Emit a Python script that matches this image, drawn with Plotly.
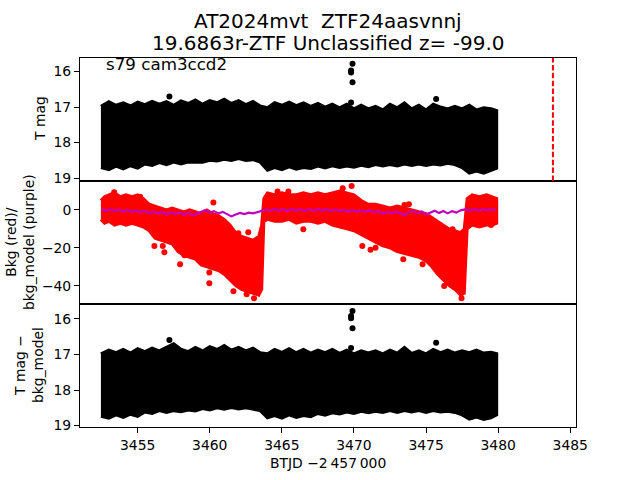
import plotly.graph_objects as go
from plotly.subplots import make_subplots

# ---------------- data ----------------
# envelope sample times for the dense black bands
T_ENV = [3452.45, 3453.0, 3453.5, 3454.0, 3454.5, 3455.0, 3455.5, 3456.0, 3456.5, 3457.0,
         3457.5, 3458.0, 3458.5, 3459.0, 3459.5, 3460.0, 3460.5, 3461.0, 3461.5, 3462.0,
         3462.5, 3463.0, 3463.5, 3464.0, 3464.5, 3465.0, 3465.5, 3466.0, 3466.5, 3467.0,
         3467.5, 3468.0, 3468.5, 3469.0, 3469.5, 3470.0, 3470.5, 3471.0, 3471.5, 3472.0,
         3472.5, 3473.0, 3473.5, 3474.0, 3474.5, 3475.0, 3475.5, 3476.0, 3476.5, 3477.0,
         3477.5, 3478.0, 3478.5, 3479.0, 3479.5, 3479.9]

TMAG_UPPER = [16.98, 16.85, 16.95, 16.88, 16.97, 16.86, 16.93, 16.84, 16.92, 16.85,
              16.95, 16.83, 16.90, 16.80, 16.92, 16.82, 16.88, 16.78, 16.90, 16.82,
              16.93, 16.84, 16.97, 17.02, 16.88, 16.95, 16.86, 16.96, 16.88, 16.98,
              16.90, 17.00, 16.92, 17.02, 16.92, 17.05, 16.95, 17.05, 16.98, 17.08,
              16.92, 17.02, 16.88, 17.05, 16.95, 17.08, 16.92, 17.00, 17.05, 16.98,
              17.05, 16.95, 17.08, 17.02, 17.05, 17.10]
TMAG_LOWER = [18.70, 18.76, 18.66, 18.74, 18.65, 18.72, 18.60, 18.64, 18.56, 18.62,
              18.55, 18.60, 18.55, 18.54, 18.55, 18.50, 18.52, 18.47, 18.50, 18.45,
              18.50, 18.48, 18.55, 18.78, 18.70, 18.76, 18.68, 18.75, 18.70, 18.73,
              18.66, 18.71, 18.65, 18.70, 18.66, 18.69, 18.64, 18.68, 18.62, 18.66,
              18.62, 18.66, 18.60, 18.64, 18.60, 18.64, 18.60, 18.63, 18.58, 18.62,
              18.70, 18.86, 18.80, 18.86, 18.78, 18.72]

SUB_UPPER = [16.98, 16.88, 16.95, 16.86, 16.96, 16.84, 16.92, 16.82, 16.90, 16.80,
             16.70, 16.85, 16.92, 16.80, 16.90, 16.78, 16.86, 16.75, 16.88, 16.80,
             16.90, 16.82, 16.95, 16.98, 16.86, 16.94, 16.84, 16.95, 16.86, 16.96,
             16.88, 16.95, 16.86, 16.97, 16.88, 16.98, 16.90, 16.96, 16.90, 16.98,
             16.88, 16.96, 16.80, 16.97, 16.90, 16.98, 16.86, 16.95, 16.88, 16.96,
             16.90, 16.95, 16.88, 16.96, 16.94, 16.98]
SUB_LOWER = [18.74, 18.79, 18.70, 18.77, 18.68, 18.74, 18.62, 18.66, 18.58, 18.63,
             18.58, 18.61, 18.56, 18.59, 18.52, 18.56, 18.50, 18.54, 18.49, 18.53,
             18.50, 18.54, 18.58, 18.78, 18.72, 18.79, 18.70, 18.77, 18.72, 18.75,
             18.66, 18.71, 18.64, 18.67, 18.62, 18.66, 18.60, 18.64, 18.60, 18.63,
             18.58, 18.63, 18.58, 18.62, 18.58, 18.63, 18.58, 18.62, 18.60, 18.63,
             18.70, 18.82, 18.76, 18.83, 18.78, 18.70]

# isolated bright points
OUT_T = [3457.2, 3469.9, 3469.8, 3469.8, 3469.9, 3469.8, 3475.7]
OUT_TMAG = [16.70, 15.78, 15.97, 16.03, 16.30, 16.87, 16.77]
OUT_SUB = [16.59, 15.78, 15.92, 15.98, 16.26, 16.82, 16.67]

# background (red) envelope
BKG_T = [3452.45, 3452.7, 3453.0, 3453.4, 3453.8, 3454.2, 3454.6, 3455.0, 3455.4, 3455.8,
         3456.2, 3456.6, 3457.0, 3457.4, 3457.8, 3458.2, 3458.6, 3459.0, 3459.4, 3459.8,
         3460.2, 3460.6, 3461.0, 3461.4, 3461.8, 3462.2, 3462.6, 3463.0, 3463.4, 3463.6,
         3463.75, 3464.0, 3464.5, 3465.0, 3465.5, 3466.0, 3466.5, 3467.0, 3467.5, 3468.0,
         3468.5, 3469.0, 3469.5, 3470.0, 3470.5, 3471.0, 3471.5, 3472.0, 3472.5, 3473.0,
         3473.5, 3474.0, 3474.5, 3475.0, 3475.4, 3475.8, 3476.2, 3476.6, 3477.0, 3477.4,
         3477.65, 3477.85, 3478.2, 3478.7, 3479.2, 3479.6, 3479.9]
BKG_UPPER = [5, 7, 8, 9, 7, 8, 7, 8, 6, 3,
             2, 1, 0, 1, 0, -1, 0, -1, -2, 0,
             -2, -3, -5, -8, -12, -14, -15, -16, -14, -8,
             6, 9, 8, 9, 8, 8, 9, 8, 9, 8,
             9, 10, 9, 8, 5, 3, 3, 2, 1, 2,
             1, 0, -1, -2, -4, -6, -8, -10, -11, -12,
             -10, 6, 8, 7, 8, 7, 6]
BKG_LOWER = [-5, -7, -6, -8, -7, -8, -7, -8, -9, -11,
             -15, -16, -17, -18, -22, -24, -25, -26, -29, -30,
             -31, -32, -34, -37, -40, -42, -43, -44, -45, -42,
             -6, -5, -6, -6, -5, -7, -6, -6, -7, -6,
             -8, -9, -10, -11, -13, -15, -17, -19, -20, -22,
             -23, -24, -25, -27, -30, -34, -37, -40, -42, -45,
             -44, -10, -8, -9, -8, -8, -7]

BKG_OUT_T = [3453.37, 3455.17, 3460.25, 3456.16, 3456.74, 3456.85, 3458.24, 3457.94, 3459.97,
             3459.97, 3459.97, 3461.0, 3461.64, 3462.56, 3463.07, 3461.98, 3462.67, 3465.45,
             3466.49, 3464.7, 3469.22, 3469.84, 3468.75, 3470.58, 3471.15, 3471.5, 3473.42,
             3474.76, 3473.5, 3473.81, 3476.84, 3476.26, 3476.93, 3477.46, 3479.5]
BKG_OUT_V = [9.4, 7.0, 3.9, -19.0, -19.0, -22.4, -24.0, -28.7, -29.0,
             -33.0, -38.8, -31.4, -43.0, -44.6, -46.7, -12.3, -11.8, 9.7,
             -10.2, 9.7, 11.5, 12.7, 8.5, -19.0, -21.0, -20.0, -26.0,
             -28.7, 2.6, 3.0, -10.2, -40.2, -40.6, -46.7, -7.9]

# background model (purple)
MODEL_T = [3452.5, 3452.8, 3453.1, 3453.4, 3453.7, 3454.0, 3454.3, 3454.6, 3454.9, 3455.2,
           3455.5, 3455.8, 3456.1, 3456.4, 3456.7, 3457.0, 3457.3, 3457.6, 3457.9, 3458.2,
           3458.5, 3458.8, 3459.1, 3459.4, 3459.7, 3460.0, 3460.3, 3460.6, 3460.9, 3461.2,
           3461.5, 3461.8, 3462.1, 3462.4, 3462.7, 3463.0, 3463.3, 3463.6, 3463.9, 3464.2,
           3464.5, 3464.8, 3465.1, 3465.4, 3465.7, 3466.0, 3466.3, 3466.6, 3466.9, 3467.2,
           3467.5, 3467.8, 3468.1, 3468.4, 3468.7, 3469.0, 3469.3, 3469.6, 3469.9, 3470.2,
           3470.5, 3470.8, 3471.1, 3471.4, 3471.7, 3472.0, 3472.3, 3472.6, 3472.9, 3473.2,
           3473.5, 3473.8, 3474.1, 3474.4, 3474.7, 3475.0, 3475.3, 3475.6, 3475.9, 3476.2,
           3476.5, 3476.8, 3477.1, 3477.4, 3477.7, 3478.0, 3478.3, 3478.6, 3478.9, 3479.2,
           3479.5, 3479.8]
MODEL_V = [0.3, -0.5, 0.4, -0.6, 0.2, -0.8, 0.0, -1.0, -0.3, -1.3,
           -0.5, -1.6, -0.9, -2.0, -1.0, -2.4, -1.3, -2.2, -1.2, -2.6,
           -1.5, -2.8, -2.0, -0.8, 0.0, -1.4, -0.6, -1.8, -1.0, -2.2,
           -3.4, -2.4, -1.6, -2.2, -1.4, -1.8, -1.2, -0.6, 0.2, -0.4,
           0.5, -0.3, 0.4, -0.4, 0.5, -0.3, 0.4, -0.5, 0.3, -0.4,
           0.5, -0.3, 0.4, -0.5, 0.2, -0.6, 0.1, -0.8, 0.0, -0.9,
           -0.2, -1.0, -0.3, -1.2, -0.6, -2.0, -1.0, -1.8, -0.8, -1.6,
           -2.8, -1.2, -0.6, -1.6, -0.8, -2.4, -1.2, -0.4, -1.6, -0.6,
           -1.8, -0.6, -1.4, -0.2, 0.3, -0.3, 0.5, -0.2, 0.4, -0.1,
           0.3, 0.2]

VLINE_T = 3483.8
X_TICKS = [3455, 3460, 3465, 3470, 3475, 3480, 3485]
MAG_TICKS = [16, 17, 18, 19]
BKG_TICKS = [0, -20, -40]

# ---------------- figure ----------------
FONT = "DejaVu Sans"
fig = make_subplots(rows=3, cols=1, shared_xaxes=True, vertical_spacing=0)


def band(t, up, lo, color, row):
    fig.add_trace(go.Scatter(x=t + t[::-1], y=up + lo[::-1], mode="lines", fill="toself",
                             fillcolor=color, line=dict(color=color, width=3),
                             hoverinfo="skip", showlegend=False), row=row, col=1)


band(T_ENV, TMAG_UPPER, TMAG_LOWER, "black", 1)
fig.add_trace(go.Scatter(x=OUT_T, y=OUT_TMAG, mode="markers",
                         marker=dict(color="black", size=6), showlegend=False), row=1, col=1)

band(BKG_T, BKG_UPPER, BKG_LOWER, "#ff0000", 2)
fig.add_trace(go.Scatter(x=BKG_OUT_T, y=BKG_OUT_V, mode="markers",
                         marker=dict(color="#ff0000", size=6), showlegend=False), row=2, col=1)
fig.add_trace(go.Scatter(x=MODEL_T, y=MODEL_V, mode="lines",
                         line=dict(color="#bf00bf", width=2.2), showlegend=False), row=2, col=1)

band(T_ENV, SUB_UPPER, SUB_LOWER, "black", 3)
fig.add_trace(go.Scatter(x=OUT_T, y=OUT_SUB, mode="markers",
                         marker=dict(color="black", size=6), showlegend=False), row=3, col=1)

fig.add_shape(type="line", x0=VLINE_T, x1=VLINE_T, y0=0, y1=1, xref="x", yref="y domain",
              line=dict(color="#ff0000", width=2, dash="5.5px,2.4px"))

axis_common = dict(showline=True, linecolor="black", linewidth=1, mirror=True,
                   showgrid=False, zeroline=False, ticks="outside", ticklen=5, tickwidth=1,
                   tickcolor="black", tickfont=dict(family=FONT, size=13.9, color="black"))

for r in (1, 2, 3):
    fig.update_xaxes(range=[3451.0, 3485.4], tickvals=X_TICKS, row=r, col=1, **axis_common)
fig.update_xaxes(showticklabels=False, ticks="", row=1, col=1)
fig.update_xaxes(showticklabels=False, ticks="", row=2, col=1)

fig.update_yaxes(range=[19.08, 15.62], tickvals=MAG_TICKS, row=1, col=1, **axis_common)
fig.update_yaxes(range=[-49.7, 15.3], tickvals=BKG_TICKS,
                 ticktext=["0", "\u221220", "\u221240"], row=2, col=1, **axis_common)
fig.update_yaxes(range=[19.04, 15.58], tickvals=MAG_TICKS, row=3, col=1, **axis_common)

L, R, T, B = 80, 64, 58, 53
PH = 480 - T - B
PW = 640 - L - R


def px(x):
    return (x - L) / PW


def py(y):
    return (480 - B - y) / PH


ann = []
ann.append(dict(text="AT2024mvt  ZTF24aasvnnj", x=0.5, y=py(21), xref="paper", yref="paper",
                showarrow=False, xanchor="center", yanchor="middle",
                font=dict(family=FONT, size=20, color="black")))
ann.append(dict(text="19.6863r-ZTF Unclassified z= -99.0", x=0.5, y=py(43), xref="paper",
                yref="paper", showarrow=False, xanchor="center", yanchor="middle",
                font=dict(family=FONT, size=20, color="black")))
ann.append(dict(text="s79 cam3ccd2", x=px(104), y=py(64), xref="paper", yref="paper",
                showarrow=False, xanchor="left", yanchor="middle",
                font=dict(family=FONT, size=16.7, color="black")))
ann.append(dict(text="T mag", x=px(40), y=py(119), xref="paper", yref="paper", textangle=-90,
                showarrow=False, xanchor="center", yanchor="middle",
                font=dict(family=FONT, size=13.9, color="black")))
ann.append(dict(text="Bkg (red)/<br>bkg_model (purple)", x=px(20), y=py(242), xref="paper",
                yref="paper", textangle=-90, showarrow=False, xanchor="center", yanchor="middle",
                font=dict(family=FONT, size=13.9, color="black")))
ann.append(dict(text="T mag \u2212<br>bkg_model", x=px(29), y=py(365), xref="paper",
                yref="paper", textangle=-90, showarrow=False, xanchor="center", yanchor="middle",
                font=dict(family=FONT, size=13.9, color="black")))
ann.append(dict(text="BTJD \u22122\u2009457\u2009000", x=0.5, y=py(463), xref="paper", yref="paper",
                showarrow=False, xanchor="center", yanchor="middle",
                font=dict(family=FONT, size=13.9, color="black")))

fig.update_layout(width=640, height=480, margin=dict(l=L, r=R, t=T, b=B),
                  paper_bgcolor="white", plot_bgcolor="white", showlegend=False,
                  annotations=ann, font=dict(family=FONT, color="black"))

fig.write_html("out.html", config={"displayModeBar": False},
               post_script="document.body.style.margin='0';")
